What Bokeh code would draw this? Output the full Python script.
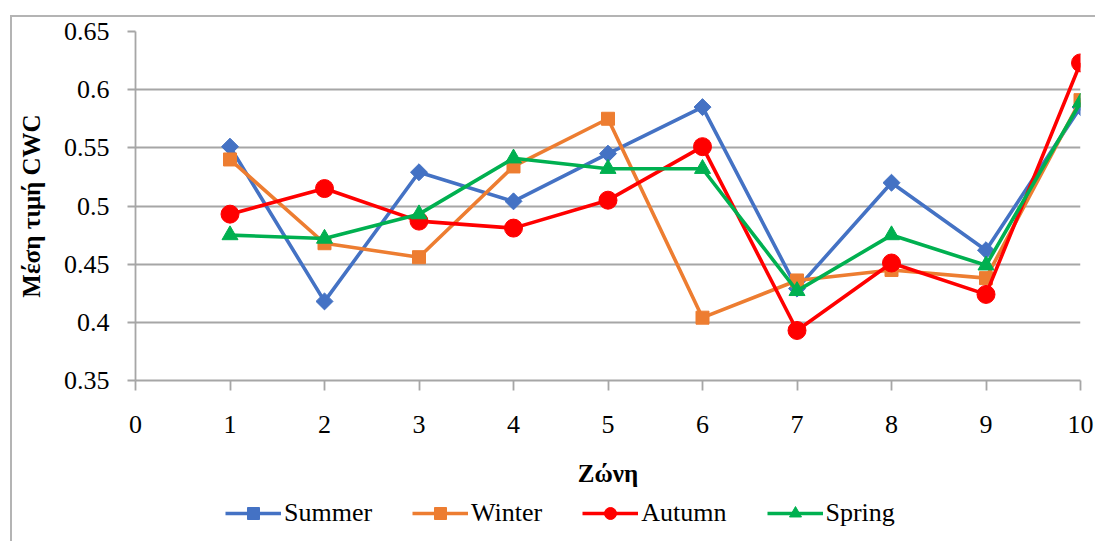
import math
from bokeh.plotting import figure
from bokeh.layouts import column
from bokeh.models import FixedTicker, Legend, LegendItem, Range1d
from bokeh.embed import file_html
from bokeh.resources import INLINE

zones = [1, 2, 3, 4, 5, 6, 7, 8, 9, 10]
summer = [0.551, 0.418, 0.529, 0.504, 0.545, 0.585, 0.429, 0.520, 0.462, 0.585]
winter = [0.540, 0.468, 0.456, 0.534, 0.575, 0.404, 0.436, 0.445, 0.438, 0.591]
autumn = [0.493, 0.515, 0.487, 0.481, 0.505, 0.551, 0.393, 0.451, 0.424, 0.623]
spring = [0.475, 0.472, 0.493, 0.541, 0.532, 0.532, 0.427, 0.475, 0.449, 0.589]

series_names = ["Summer", "Winter", "Autumn", "Spring"]
series_values = [summer, winter, autumn, spring]

x_ticks = [0, 1, 2, 3, 4, 5, 6, 7, 8, 9, 10]
y_ticks = [0.35, 0.40, 0.45, 0.50, 0.55, 0.60, 0.65]
y_tick_labels = ["0.35", "0.4", "0.45", "0.5", "0.55", "0.6", "0.65"]

FONT = "Liberation Serif"
styles = [
    ("#4472C4", "square", 12, math.pi / 4),
    ("#ED7D31", "square", 13, 0.0),
    ("#FF0000", "circle", 18, 0.0),
    ("#00B050", "triangle", 16, 0.0),
]

p = figure(width=1083, height=478, output_backend="svg", toolbar_location=None,
           x_range=Range1d(0, 10), y_range=Range1d(0.35, 0.65),
           min_border_left=123, min_border_right=15, min_border_top=14,
           min_border_bottom=115)
p.outline_line_color = None
p.background_fill_color = "white"
p.border_fill_color = "white"

p.xgrid.visible = False
p.ygrid.grid_line_color = "#a6a6a6"
p.ygrid.grid_line_width = 1.8
p.ygrid.ticker = FixedTicker(ticks=y_ticks)

p.xaxis.ticker = FixedTicker(ticks=x_ticks)
p.yaxis.ticker = FixedTicker(ticks=y_ticks)
p.yaxis.major_label_overrides = {t: l for t, l in zip(y_ticks, y_tick_labels)}

for ax in (p.xaxis[0], p.yaxis[0]):
    ax.axis_line_color = "#a6a6a6"
    ax.axis_line_width = 1.8
    ax.major_tick_line_color = "#a6a6a6"
    ax.major_tick_line_width = 1.8
    ax.major_tick_in = 0
    ax.minor_tick_line_color = None
    ax.major_label_text_font = FONT
    ax.major_label_text_font_size = "26px"
    ax.major_label_text_color = "black"
    ax.axis_label_text_font = FONT
    ax.axis_label_text_font_size = "25px"
    ax.axis_label_text_font_style = "bold"
    ax.axis_label_text_color = "black"

p.xaxis.major_tick_out = 10
p.yaxis.major_tick_out = 8
p.xaxis.major_label_standoff = 25
p.yaxis.major_label_standoff = 18
p.xaxis.axis_label = "Ζώνη"
p.yaxis.axis_label = "Μέση τιμή CWC"
p.xaxis.axis_label_standoff = 24
p.yaxis.axis_label_standoff = 16

for vals, (color, marker, size, ang) in zip(series_values, styles):
    p.line(zones, vals, line_color=color, line_width=3.6)
    p.scatter(zones, vals, marker=marker, size=size, angle=ang,
              fill_color=color, line_color=color)

# legend strip below the chart (its renderers carry the series but lie outside its view)
lf = figure(width=1083, height=46, output_backend="svg", toolbar_location=None,
            x_range=Range1d(-20, -19), y_range=Range1d(0, 1),
            min_border=0, x_axis_type=None, y_axis_type=None)
lf.outline_line_color = None
lf.xgrid.visible = False
lf.ygrid.visible = False
lf.border_fill_color = "white"
lf.background_fill_color = "white"

items = []
for name, vals, (color, marker, size, ang) in zip(series_names, series_values, styles):
    ln = lf.line(zones, vals, line_color=color, line_width=3.6)
    sc = lf.scatter(zones, vals, marker=marker, size=size, angle=ang,
                    fill_color=color, line_color=color)
    items.append(LegendItem(label=name, renderers=[ln, sc]))

legend = Legend(items=items, orientation="horizontal", location=(90, 13),
                label_text_font=FONT, label_text_font_size="26px",
                label_text_color="black", glyph_width=56, glyph_height=30,
                spacing=40, label_standoff=3, padding=0, margin=0,
                border_line_color=None, background_fill_alpha=0)
lf.add_layout(legend)

layout = column(p, lf, spacing=0)
layout.margin = (15, 0, 0, 10)
layout.styles = {"border-top": "2px solid #b4b4b4", "border-left": "2px solid #b4b4b4"}

open("out.html", "w").write(file_html(layout, INLINE))
